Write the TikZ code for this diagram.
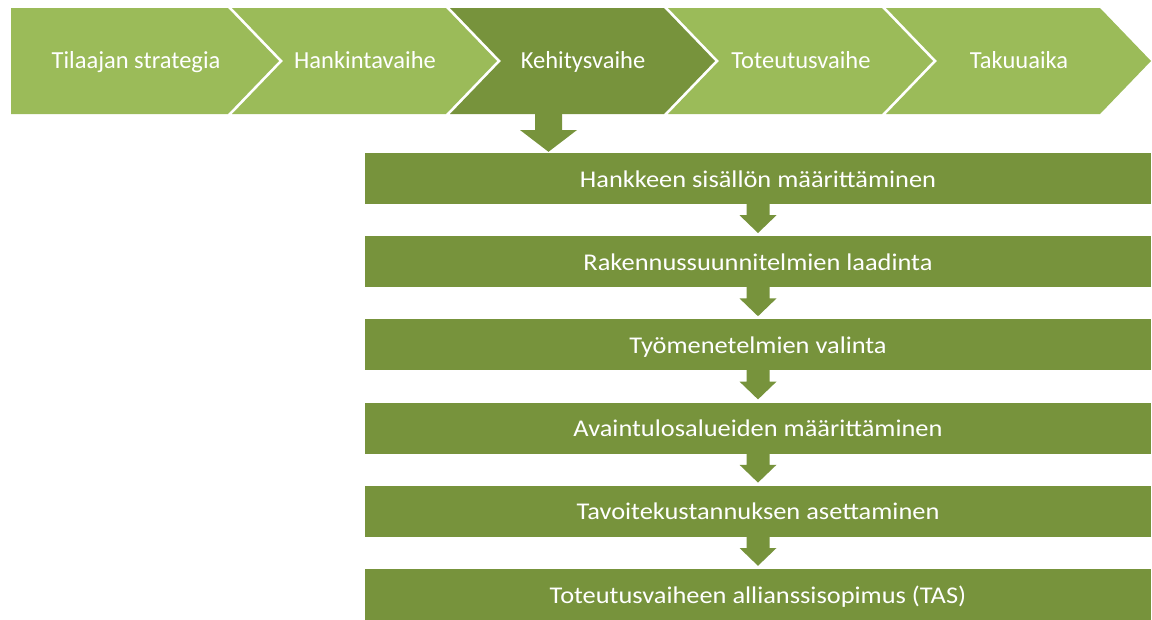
\documentclass[tikz,border=0pt]{standalone}
\usepackage{fontspec}
\setmainfont{Carlito}
\usetikzlibrary{calc}
\definecolor{lightolive}{HTML}{9BBB59}
\definecolor{darkolive}{HTML}{77933C}
% step labels are set a little wider than their height
\newcommand{\widelabel}[1]{\scalebox{1.1}[1]{#1}}

\begin{document}
\begin{tikzpicture}[x=1pt,y=-1pt,
  phase/.style={text=white,font=\fontsize{24.5}{28}\selectfont,inner sep=0pt,anchor=base},
  stepbox/.style={fill=darkolive,text=white,font=\fontsize{24}{28}\selectfont,
    minimum width=786pt,minimum height=51pt,inner sep=0pt,text height=17pt,text depth=0pt},
  blockarrow/.style={fill=darkolive},
]
\useasboundingbox (0,0) rectangle (1152,619);

% process chevrons
\fill[lightolive] (11,8) -- (228,8) -- (279,61) -- (228,114) -- (11,114) -- cycle;
\foreach \i/\c in {1/lightolive,2/darkolive,3/lightolive,4/lightolive}{
  \pgfmathsetmacro\L{232+218*(\i-1)}
  \pgfmathsetmacro\R{228+218*\i}
  \fill[\c] (\L,8) -- (\R,8) -- (\R+51,61) -- (\R,114) -- (\L,114) -- (\L+51,61) -- cycle;
}

% phase labels
\node[phase] (c1) at (136,68) {Tilaajan strategia};
\node[phase] (c2) at (365,68) {Hankintavaihe};
\node[phase] (c3) at (583,68) {Kehitysvaihe};
\node[phase] (c4) at (801,68) {Toteutusvaihe};
\node[phase] (c5) at (1019,68) {Takuuaika};

% development phase steps
\node[stepbox] (b1) at (758,178.5) {\widelabel{Hankkeen sisällön määrittäminen}};
\node[stepbox] (b2) at (758,261.7) {\widelabel{Rakennussuunnitelmien laadinta}};
\node[stepbox] (b3) at (758,344.9) {\widelabel{Työmenetelmien valinta}};
\node[stepbox] (b4) at (758,428.1) {\widelabel{Avaintulosalueiden määrittäminen}};
\node[stepbox] (b5) at (758,511.3) {\widelabel{Tavoitekustannuksen asettaminen}};
\node[stepbox] (b6) at (758,594.5) {\widelabel{Toteutusvaiheen allianssisopimus (TAS)}};

% arrow from the development phase down to the steps
\coordinate (k) at (548.5,113);
\fill[blockarrow] ($(k)+(-13.5,0)$) -- ($(k)+(13.5,0)$) -- ($(k)+(13.5,17)$)
  -- ($(k)+(28.5,17)$) -- ($(b1.north -| k)+(0,-1)$) -- ($(k)+(-28.5,17)$)
  -- ($(k)+(-13.5,17)$) -- cycle;

% arrows between consecutive steps
\foreach \a/\b in {b1/b2,b2/b3,b3/b4,b4/b5,b5/b6}{
  \fill[blockarrow] ($(\a.south)+(-11.5,-1)$) -- ($(\a.south)+(11.5,-1)$)
    -- ($(\a.south)+(11.5,11)$) -- ($(\a.south)+(18.5,11)$)
    -- ($(\b.north)+(0,-3)$) -- ($(\a.south)+(-18.5,11)$)
    -- ($(\a.south)+(-11.5,11)$) -- cycle;
}
\end{tikzpicture}
\end{document}
